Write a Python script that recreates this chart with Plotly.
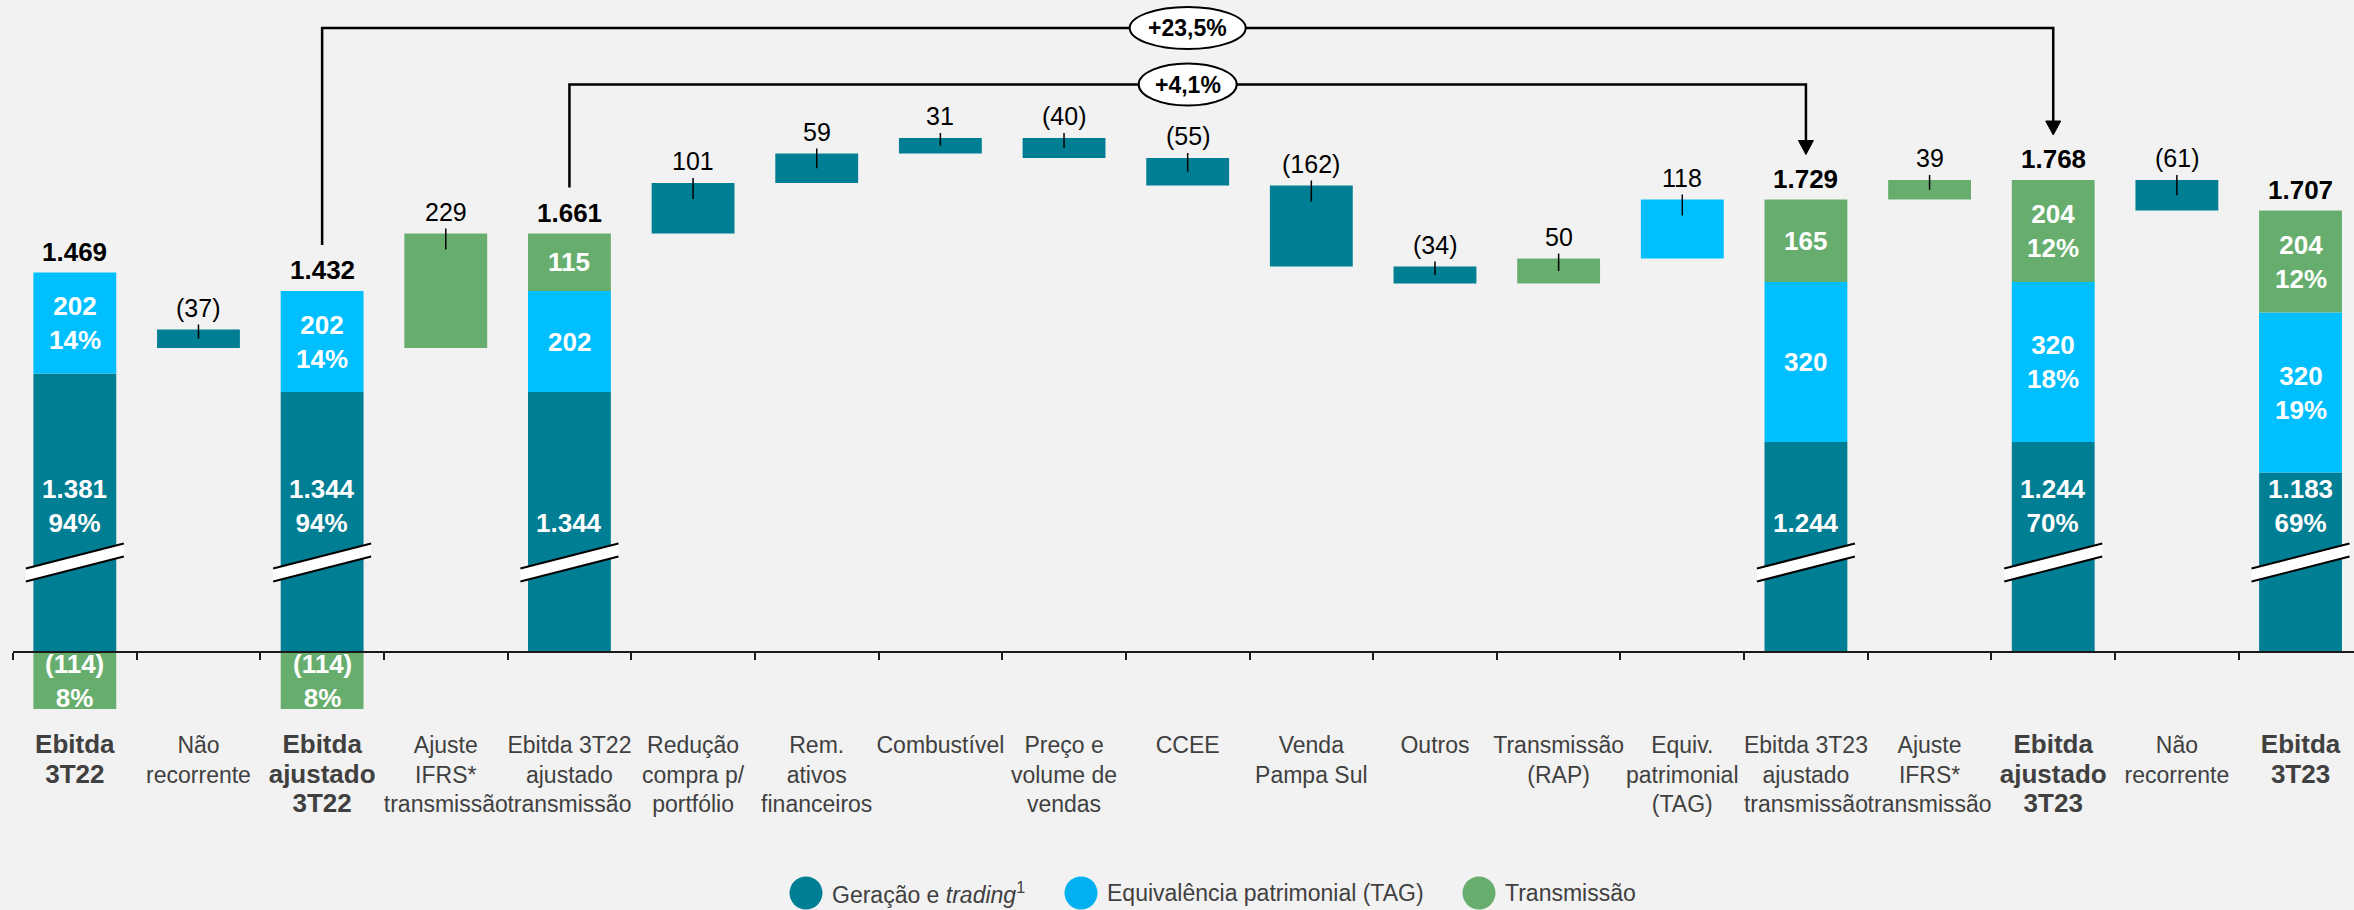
import plotly.graph_objects as go

# ---------------- data ----------------
BOLD = "<b><span style='font-size:26px'>{}</span></b>"
categories = [
    BOLD.format("Ebitda") + "<br>" + BOLD.format("3T22"),
    "Não<br>recorrente",
    BOLD.format("Ebitda") + "<br>" + BOLD.format("ajustado") + "<br>" + BOLD.format("3T22"),
    "Ajuste<br>IFRS*<br>transmissão",
    "Ebitda 3T22<br>ajustado<br>transmissão",
    "Redução<br>compra p/<br>portfólio",
    "Rem.<br>ativos<br>financeiros",
    "Combustível",
    "Preço e<br>volume de<br>vendas",
    "CCEE",
    "Venda<br>Pampa Sul",
    "Outros",
    "Transmissão<br>(RAP)",
    "Equiv.<br>patrimonial<br>(TAG)",
    "Ebitda 3T23<br>ajustado<br>transmissão",
    "Ajuste<br>IFRS*<br>transmissão",
    BOLD.format("Ebitda") + "<br>" + BOLD.format("ajustado") + "<br>" + BOLD.format("3T23"),
    "Não<br>recorrente",
    BOLD.format("Ebitda") + "<br>" + BOLD.format("3T23"),
]
# variation steps (None = total bar)
step_values = [None, -37, None, 229, None, 101, 59, 31, -40, -55, -162, -34, 50, 118, None, 39, None, -61, None]
step_series = [None, "ger", None, "tr", None, "ger", "ger", "ger", "ger", "ger", "ger", "ger", "tr", "tag", None, "tr", None, "ger", None]

# stacked total bars
total_positions = [0, 2, 4, 14, 16, 18]
gen_trading = [1381, 1344, 1344, 1244, 1244, 1183]
equity_tag = [202, 202, 202, 320, 320, 320]
transmission = [-114, -114, 115, 165, 204, 204]
pct_gen = ["94%", "94%", None, None, "70%", "69%"]
pct_tag = ["14%", "14%", None, None, "18%", "19%"]
pct_trans = ["8%", "8%", None, None, "12%", "12%"]

# growth brackets: (label, from category, to category)
growth_labels = ["+23,5%", "+4,1%"]
growth_from = [2, 4]
growth_to = [16, 14]

legend_names = ["Geração e <i>trading</i><sup>1</sup>", "Equivalência patrimonial (TAG)", "Transmissão"]

# ---------------- styles / geometry ----------------
W, H = 2354, 910
BG = "#F2F2F2"
COL = {"ger": "#007E93", "tag": "#00BFFF", "tr": "#67AE6E"}
LEG_COL = ["#007E93", "#00B0F0", "#67AE6E"]
FONT = "Liberation Sans, Arial, sans-serif"
AXIS_PX = 652          # pixel row of the category axis
PX_PER_UNIT = 0.5
AXIS_BREAK = 824       # value hidden by the axis break
LEFT = 13
CAT_W = 123.65
BAR_W = 0.67
Y_MAX = AXIS_PX / PX_PER_UNIT
Y_MIN = -(H - AXIS_PX) / PX_PER_UNIT
BREAK_Y = 89.5 / PX_PER_UNIT   # break mark centre, above the axis
ARROW_HEAD_PX = 14


def fmt(v):
    s = f"{abs(v):,}".replace(",", ".")
    return f"({s})" if v < 0 else s


def px_x(px):
    return (px - LEFT) / (W - LEFT)


def px_y(py):
    return (H - py) / H


fig = go.Figure()
annotations = []
shapes = []

# ---------------- stacked total bars ----------------
dark_x, dark_y, dark_b = [], [], []
blue_x, blue_y, blue_b = [], [], []
green_x, green_y, green_b = [], [], []
vis_top = {}
totals = {}
for k, i in enumerate(total_positions):
    g, t, r = gen_trading[k], equity_tag[k], transmission[k]
    totals[i] = g + t + r
    dark_x.append(i); dark_b.append(0); dark_y.append(g - AXIS_BREAK)
    blue_x.append(i); blue_b.append(g - AXIS_BREAK); blue_y.append(t)
    gb = g + t - AXIS_BREAK if r > 0 else 0
    green_x.append(i); green_b.append(gb); green_y.append(r)
    top = g + t + max(r, 0) - AXIS_BREAK
    vis_top[i] = top
    # total label
    annotations.append(dict(x=i, y=top, text=f"<b>{fmt(totals[i])}</b>", showarrow=False,
                            yanchor="middle", yshift=21, font=dict(size=26, color="#000000")))
    # inside labels
    txt = f"<b>{fmt(g)}</b>" + (f"<br><b>{pct_gen[k]}</b>" if pct_gen[k] else "")
    annotations.append(dict(x=i, y=BREAK_Y, text=txt, showarrow=False, yanchor="bottom", yshift=23,
                            font=dict(size=26, color="white")))
    txt = f"<b>{fmt(t)}</b>" + (f"<br><b>{pct_tag[k]}</b>" if pct_tag[k] else "")
    annotations.append(dict(x=i, y=g - AXIS_BREAK + t / 2, text=txt, showarrow=False, yanchor="middle",
                            font=dict(size=26, color="white")))
    txt = f"<b>{fmt(r)}</b>" + (f"<br><b>{pct_trans[k]}</b>" if pct_trans[k] else "")
    annotations.append(dict(x=i, y=gb + r / 2, text=txt, showarrow=False, yanchor="middle",
                            font=dict(size=26, color="white")))
    # axis-break mark
    shapes.append(dict(type="path", xref="x", yref="y", xsizemode="pixel", ysizemode="pixel",
                       xanchor=i, yanchor=BREAK_Y, path="M -49,-6 L 49,19 L 49,6 L -49,-19 Z",
                       fillcolor="white", line=dict(width=0), layer="above"))
    shapes.append(dict(type="path", xref="x", yref="y", xsizemode="pixel", ysizemode="pixel",
                       xanchor=i, yanchor=BREAK_Y, path="M -49,-6 L 49,19 M -49,-19 L 49,6",
                       line=dict(color="#000000", width=2), layer="above"))

for xs, ys, bs, c in [(dark_x, dark_y, dark_b, COL["ger"]), (blue_x, blue_y, blue_b, COL["tag"]),
                      (green_x, green_y, green_b, COL["tr"])]:
    fig.add_trace(go.Bar(x=xs, y=ys, base=bs, width=BAR_W, marker=dict(color=c, line=dict(width=0)),
                         showlegend=False, hoverinfo="skip"))

# ---------------- floating variation bars ----------------
fx, fy, fb, fc = [], [], [], []
lead_x, lead_y, lead_up, lead_dn = [], [], [], []
running = totals[0]
for i, v in enumerate(step_values):
    if v is None:
        running = totals[i]
        continue
    base = running - AXIS_BREAK
    fx.append(i); fy.append(v); fb.append(base); fc.append(COL[step_series[i]])
    top = base + max(v, 0)
    vis_top[i] = top
    lead_x.append(i); lead_y.append(top); lead_up.append(10); lead_dn.append(min(abs(v) / 2, 32))
    annotations.append(dict(x=i, y=top, text=fmt(v), showarrow=False, yanchor="middle", yshift=22,
                            font=dict(size=25, color="#000000")))
    running += v

fig.add_trace(go.Bar(x=fx, y=fy, base=fb, width=BAR_W, marker=dict(color=fc, line=dict(width=0)),
                     showlegend=False, hoverinfo="skip"))
fig.add_trace(go.Scatter(x=lead_x, y=lead_y, mode="markers", marker=dict(size=1, opacity=0),
                         error_y=dict(type="data", symmetric=False, array=lead_up, arrayminus=lead_dn,
                                      color="#000000", thickness=1.5, width=0),
                         showlegend=False, hoverinfo="skip"))

# ---------------- growth brackets ----------------
levels = []
for n in range(len(growth_labels)):
    a, b = growth_from[n], growth_to[n]
    levels.append(max(vis_top[j] for j in range(a, b + 1)))
order = sorted(range(len(growth_labels)), key=lambda n: growth_to[n] - growth_from[n])
level_y = {}
cur = max(levels) + 107
for n in order:
    level_y[n] = cur
    cur += 113
for n in range(len(growth_labels)):
    a, b = growth_from[n], growth_to[n]
    L = level_y[n]
    tip = vis_top[b] + 90
    shaft_end = tip + ARROW_HEAD_PX / PX_PER_UNIT - 2
    shapes.append(dict(type="path", xref="x", yref="y",
                       path=f"M {a},{vis_top[a] + 92} L {a},{L} L {b},{L} L {b},{shaft_end}",
                       line=dict(color="#000000", width=2.5), layer="above"))
    shapes.append(dict(type="path", xref="x", yref="y", xsizemode="pixel", ysizemode="pixel",
                       xanchor=b, yanchor=tip, path=f"M -7.5,{ARROW_HEAD_PX} L 7.5,{ARROW_HEAD_PX} L 0,0 Z",
                       fillcolor="#000000", line=dict(color="#000000", width=1), layer="above"))
    half = 58 if len(growth_labels[n]) > 5 else 49
    shapes.append(dict(type="circle", xref="x", yref="y", xsizemode="pixel", ysizemode="pixel",
                       xanchor=(a + b) / 2, yanchor=L, x0=-half, x1=half, y0=-21, y1=21,
                       fillcolor="white", line=dict(color="#000000", width=2), layer="above"))
    annotations.append(dict(x=(a + b) / 2, y=L, text=f"<b>{growth_labels[n]}</b>", showarrow=False,
                            yanchor="middle", font=dict(size=23, color="#000000")))

# ---------------- legend (drawn) ----------------
leg_marker_px = [806, 1081, 1479]
leg_text_px = [830, 1105, 1503]
for n, name in enumerate(legend_names):
    shapes.append(dict(type="circle", xref="paper", yref="paper", xsizemode="pixel", ysizemode="pixel",
                       xanchor=px_x(leg_marker_px[n]), yanchor=px_y(893), x0=-16.5, x1=16.5,
                       y0=-16.5, y1=16.5, fillcolor=LEG_COL[n], line=dict(width=0)))
    annotations.append(dict(xref="paper", yref="paper", x=px_x(leg_text_px[n]), y=px_y(893),
                            xanchor="left", yanchor="middle", text=name, showarrow=False,
                            font=dict(size=23, color="#404040")))

fig.update_layout(
    width=W, height=H,
    margin=dict(l=LEFT, r=0, t=0, b=0),
    paper_bgcolor=BG, plot_bgcolor=BG,
    barmode="overlay",
    font=dict(family=FONT),
    shapes=shapes,
    annotations=annotations,
    showlegend=False,
    xaxis=dict(
        range=[-0.5, -0.5 + (W - LEFT) / CAT_W],
        tickmode="array", tickvals=list(range(len(categories))), ticktext=categories,
        tickangle=0, ticks="", tickfont=dict(size=23, color="#404040", family=FONT),
        ticklabelstandoff=72,
        showline=True, linecolor="#1A1A1A", linewidth=2,
        anchor="free", position=(0 - Y_MIN) / (Y_MAX - Y_MIN),
        showgrid=False, zeroline=False, automargin=False, fixedrange=True,
        minor=dict(tickmode="array", tickvals=[k - 0.5 for k in range(len(categories) + 1)],
                   ticks="outside", ticklen=7, tickwidth=2, tickcolor="#1A1A1A", showgrid=False),
    ),
    yaxis=dict(range=[Y_MIN, Y_MAX], visible=False, showgrid=False, zeroline=False, fixedrange=True),
)

fig.write_html("out.html", config={"displayModeBar": False},
               post_script="document.body.style.margin='0px';document.body.style.background='#F2F2F2';")
